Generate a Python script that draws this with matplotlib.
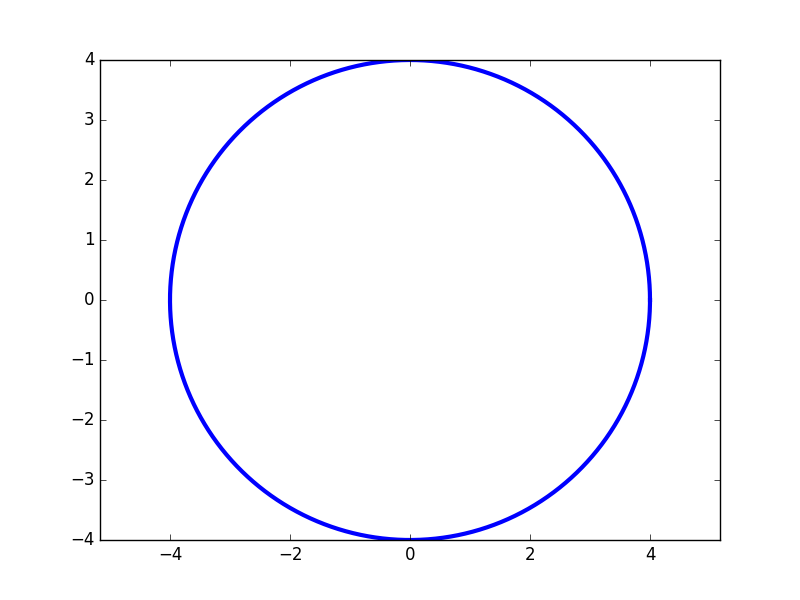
import numpy as np
import matplotlib
matplotlib.use("Agg")
import matplotlib.pyplot as plt

plt.style.use('classic')

radius = 4.0
n_points = 400

theta = np.linspace(0, 2 * np.pi, n_points)
x = radius * np.cos(theta)
y = radius * np.sin(theta)

fig = plt.figure(figsize=(8, 6), dpi=100)
ax = fig.add_subplot(111)
ax.plot(x, y, color='b', linewidth=3)
ax.set_ylim(-4, 4)
ax.set_aspect('equal', adjustable='datalim')
ax.set_yticks(np.arange(-4, 5, 1))
ax.set_xticks(np.arange(-4, 5, 2))
fig.savefig('out.png', dpi=100)
